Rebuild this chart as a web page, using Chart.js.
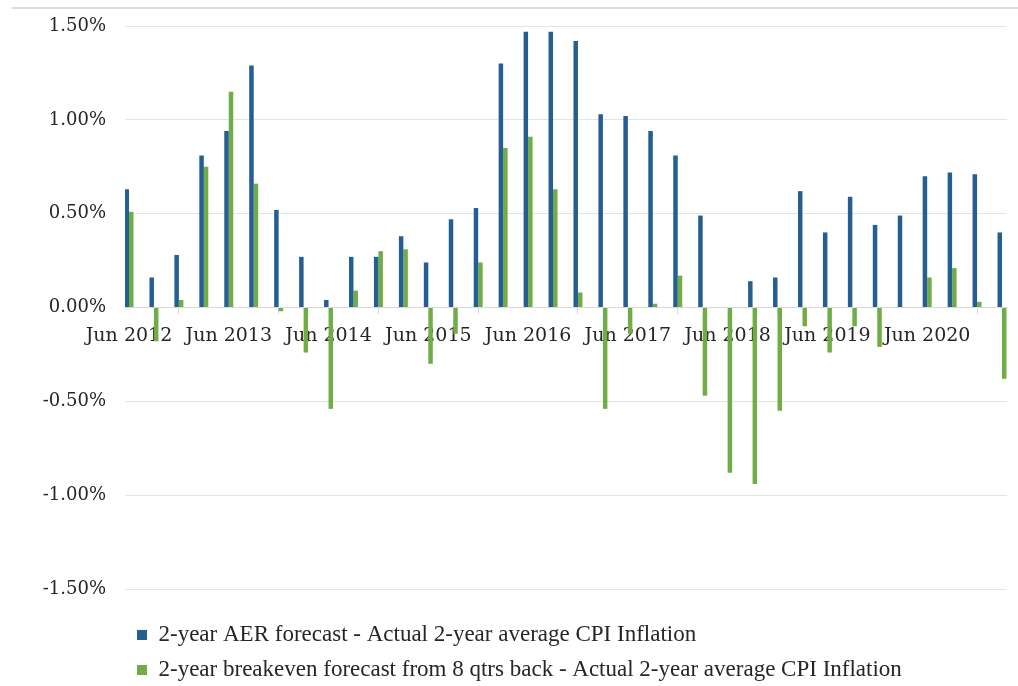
<!DOCTYPE html>
<html>
<head>
<meta charset="utf-8">
<script src="https://cdn.jsdelivr.net/npm/chart.js@4/dist/chart.umd.min.js"></script>
<style>
  body { margin: 0; background: #fff; }
  #wrap { position: relative; width: 1018px; height: 686px; }
  #rule { position: absolute; top: 7px; left: 12px; right: 0; height: 2px; background: #dcdcdc; }
</style>
</head>
<body>
<div id="wrap">
  <div id="rule"></div>
  <canvas id="chart"></canvas>
</div>
<script>
// quarter ends, Jun 2012 to Mar 2021
const quarters = [
  "Jun 2012", "Sep 2012", "Dec 2012", "Mar 2013",
  "Jun 2013", "Sep 2013", "Dec 2013", "Mar 2014",
  "Jun 2014", "Sep 2014", "Dec 2014", "Mar 2015",
  "Jun 2015", "Sep 2015", "Dec 2015", "Mar 2016",
  "Jun 2016", "Sep 2016", "Dec 2016", "Mar 2017",
  "Jun 2017", "Sep 2017", "Dec 2017", "Mar 2018",
  "Jun 2018", "Sep 2018", "Dec 2018", "Mar 2019",
  "Jun 2019", "Sep 2019", "Dec 2019", "Mar 2020",
  "Jun 2020", "Sep 2020", "Dec 2020", "Mar 2021"
];

// forecast minus actual, percentage points
const aerGap = [
  0.63, 0.16, 0.28, 0.81, 0.94, 1.29, 0.52, 0.27, 0.04,
  0.27, 0.27, 0.38, 0.24, 0.47, 0.53, 1.30, 1.47, 1.47,
  1.42, 1.03, 1.02, 0.94, 0.81, 0.49, 0.00, 0.14, 0.16,
  0.62, 0.40, 0.59, 0.44, 0.49, 0.70, 0.72, 0.71, 0.40
];
const breakevenGap = [
  0.51, -0.18, 0.04, 0.75, 1.15, 0.66, -0.02, -0.24, -0.54,
  0.09, 0.30, 0.31, -0.30, -0.14, 0.24, 0.85, 0.91, 0.63,
  0.08, -0.54, -0.14, 0.02, 0.17, -0.47, -0.88, -0.94, -0.55,
  -0.10, -0.24, -0.10, -0.21, 0.00, 0.16, 0.21, 0.03, -0.38
];

const yTicks = [-1.5, -1.0, -0.5, 0, 0.5, 1.0, 1.5];

const serif = "'DejaVu Serif', serif";

new Chart(document.getElementById("chart"), {
  type: "bar",
  data: {
    datasets: [
      {
        label: "2-year AER forecast - Actual 2-year average CPI Inflation",
        data: aerGap.map((v, i) => ({ x: i, y: v })),
        backgroundColor: "#255e91",
      },
      {
        label: "2-year breakeven forecast from 8 qtrs back - Actual 2-year average CPI Inflation",
        data: breakevenGap.map((v, i) => ({ x: i, y: v })),
        backgroundColor: "#70ad47",
      },
    ],
  },
  options: {
    responsive: true,
    maintainAspectRatio: false,
    animation: false,
    categoryPercentage: 0.36,
    barPercentage: 1.0,
    layout: { padding: { top: 26, right: 11, bottom: -5.5, left: 0 } },
    plugins: {
      tooltip: { enabled: false },
      legend: {
        position: "bottom",
        align: "start",
        fullSize: false,
        // empty title just opens a gap under the plot
        title: { display: true, text: "", font: { size: 10 }, padding: { top: 0, bottom: 10.5 } },
        labels: {
          boxWidth: 10,
          boxHeight: 10,
          padding: 12,
          color: "#262626",
          font: { family: "'Liberation Serif', serif", size: 23 },
        },
      },
    },
    scales: {
      x: {
        type: "linear",
        position: { y: 0 },
        offset: false,
        min: -0.16,
        max: 35.2,
        // axis sits inside the plot, so don't let edge labels squeeze it
        afterFit: (scale) => { scale.paddingLeft = 0; scale.paddingRight = 0; },
        grid: {
          drawOnChartArea: false,
          drawTicks: true,
          tickLength: 6,
          color: "#d9d9d9",
        },
        border: { color: "#d9d9d9" },
        ticks: {
          stepSize: 4,
          includeBounds: false,
          autoSkip: false,
          maxRotation: 0,
          padding: 11,
          color: "#262626",
          font: { family: serif, size: 19 },
          callback: (v) => quarters[v],
        },
      },
      y: {
        min: -1.5,
        max: 1.5,
        afterFit: (scale) => {
          scale.width = 125;
          scale.paddingTop = 0;
          scale.paddingBottom = 0;
        },
        afterBuildTicks: (scale) => { scale.ticks = yTicks.map((v) => ({ value: v })); },
        grid: { color: "#e4e4e4", drawTicks: false },
        border: { display: false },
        ticks: {
          padding: 19,
          color: "#262626",
          font: { family: serif, size: 18 },
          callback: (v) => v.toFixed(2) + "%",
        },
      },
    },
  },
});
</script>
</body>
</html>
